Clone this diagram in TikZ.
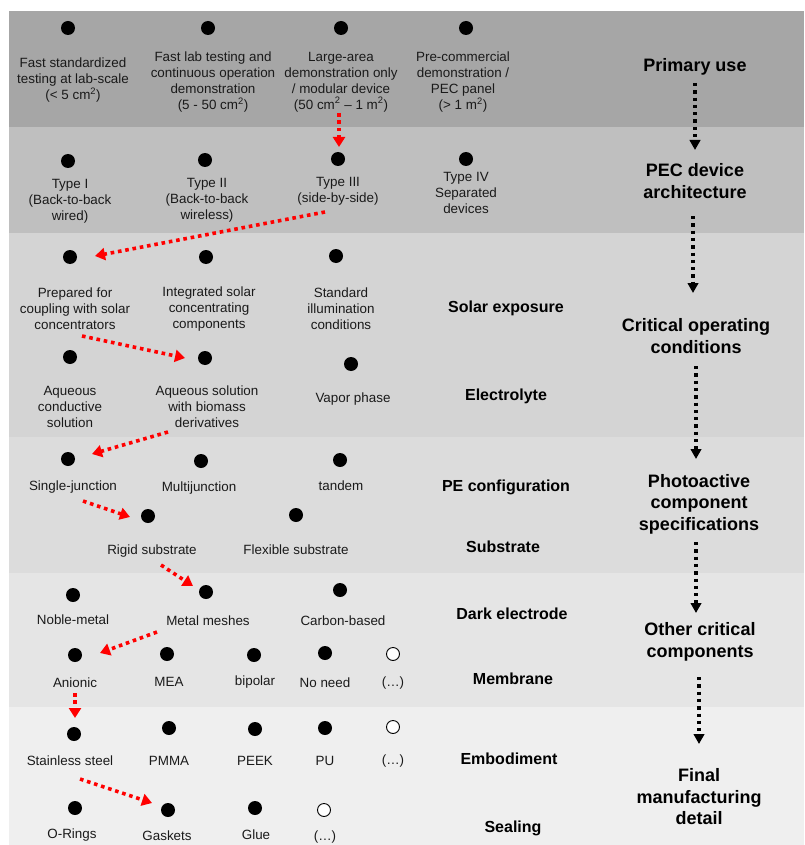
\documentclass[tikz,border=0pt]{standalone}
\usepackage{fontspec}
\setmainfont{Liberation Sans}
\usetikzlibrary{arrows.meta}
\definecolor{bandA}{HTML}{A6A6A6}
\definecolor{bandB}{HTML}{BFBFBF}
\definecolor{bandC}{HTML}{D4D4D4}
\definecolor{bandD}{HTML}{DCDCDC}
\definecolor{bandE}{HTML}{E5E5E5}
\definecolor{bandF}{HTML}{EFEFEF}
\definecolor{txt}{HTML}{1A1A1A}
\begin{document}
\begin{tikzpicture}[x=1pt,y=-1pt,
  dot/.style={circle,fill=black,inner sep=0pt,minimum size=14pt},
  odot/.style={circle,draw=black,fill=white,line width=0.9pt,inner sep=0pt,minimum size=13pt},
  lbl/.style={align=center,inner sep=0pt,text=txt,font=\fontsize{13.4}{16}\selectfont},
  cat/.style={align=center,inner sep=0pt,font=\fontsize{16}{19}\selectfont\bfseries},
  lvl/.style={align=center,inner sep=0pt,font=\fontsize{18}{21.5}\selectfont\bfseries},
  redarr/.style={draw=red,line width=3.6pt,dash pattern=on 3.6pt off 3.8pt,-{Triangle[length=10pt,width=12pt]}},
  blkarr/.style={draw=black,line width=3.3pt,dash pattern=on 3.3pt off 4pt,-{Triangle[length=10pt,width=10.5pt]}},
]
\useasboundingbox (0,0) rectangle (804,845);
\fill[white] (0,0) rectangle (804,845);
% bands
\fill[bandA] (9,11) rectangle (804,127);
\fill[bandB] (9,127) rectangle (804,233);
\fill[bandC] (9,233) rectangle (804,437);
\fill[bandD] (9,437) rectangle (804,573);
\fill[bandE] (9,573) rectangle (804,707);
\fill[bandF] (9,707) rectangle (804,845);

% ---------- Band 1: primary use
\node[dot] (d11) at (68,28) {};
\node[dot] (d12) at (208,28) {};
\node[dot] (d13) at (341,28) {};
\node[dot] (d14) at (466,28) {};
\node[lbl] (t11) at (73,80) {Fast standardized\\testing at lab-scale\\(< 5 cm\textsuperscript{2})};
\node[lbl] (t12) at (213,82) {Fast lab testing and\\continuous operation\\demonstration\\(5 - 50 cm\textsuperscript{2})};
\node[lbl] (t13) at (341,82) {Large-area\\demonstration only\\/ modular device\\(50 cm\textsuperscript{2} – 1 m\textsuperscript{2})};
\node[lbl] (t14) at (463,82) {Pre-commercial\\demonstration /\\PEC panel\\ (> 1 m\textsuperscript{2})};
\node[lvl] (h1) at (695,67) {Primary use};

% ---------- Band 2: architecture
\node[dot] (d21) at (68,161) {};
\node[dot] (d22) at (205,160) {};
\node[dot] (d23) at (338,159) {};
\node[dot] (d24) at (466,159) {};
\node[lbl] (t21) at (70,201) {Type I\\(Back-to-back\\wired)};
\node[lbl] (t22) at (207,200) {Type II\\(Back-to-back\\wireless)};
\node[lbl] (t23) at (338,191) {Type III\\(side-by-side)};
\node[lbl] (t24) at (466,193) {Type IV\\Separated\\devices};
\node[lvl] (h2) at (695,181) {PEC device\\architecture};

% ---------- Band 3: operating conditions
\node[dot] (d31) at (70,257) {};
\node[dot] (d32) at (206,257) {};
\node[dot] (d33) at (336,256) {};
\node[lbl] (t31) at (75,309) {Prepared for\\coupling with solar\\concentrators};
\node[lbl] (t32) at (209,309) {Integrated solar\\concentrating\\components};
\node[lbl] (t33) at (341,309) {Standard\\illumination\\conditions};
\node[cat] (c31) at (506,308) {Solar exposure};
\node[lvl] (h3) at (696,336) {Critical operating\\conditions};
\node[dot] (d34) at (70,357) {};
\node[dot] (d35) at (205,358) {};
\node[dot] (d36) at (351,364) {};
\node[lbl] (t34) at (70,407) {Aqueous\\conductive\\solution};
\node[lbl] (t35) at (207,407) {Aqueous solution\\with biomass\\derivatives};
\node[lbl] (t36) at (353,399) {Vapor phase};
\node[cat] (c32) at (506,396) {Electrolyte};

% ---------- Band 4: photoactive component
\node[dot] (d41) at (68,459) {};
\node[dot] (d42) at (201,461) {};
\node[dot] (d43) at (340,460) {};
\node[lbl] (t41) at (73,487) {Single-junction};
\node[lbl] (t42) at (199,488) {Multijunction};
\node[lbl] (t43) at (341,486) {tandem};
\node[cat] (c41) at (506,487) {PE configuration};
\node[lvl] (h4) at (699,504) {Photoactive\\component\\specifications};
\node[dot] (d44) at (148,516) {};
\node[dot] (d45) at (296,515) {};
\node[lbl] (t44) at (152,551) {Rigid substrate};
\node[lbl] (t45) at (296,550) {Flexible substrate};
\node[cat] (c42) at (503,547) {Substrate};

% ---------- Band 5: other components
\node[dot] (d51) at (73,595) {};
\node[dot] (d52) at (206,592) {};
\node[dot] (d53) at (340,590) {};
\node[lbl] (t51) at (73,620) {Noble-metal};
\node[lbl] (t52) at (208,621) {Metal meshes};
\node[lbl] (t53) at (343,621) {Carbon-based};
\node[cat] (c51) at (512,614) {Dark electrode};
\node[lvl] (h5) at (700,642) {Other critical\\components};
\node[dot] (d54) at (75,655) {};
\node[dot] (d55) at (167,654) {};
\node[dot] (d56) at (254,655) {};
\node[dot] (d57) at (325,653) {};
\node[odot] (d58) at (393,654) {};
\node[lbl] (t54) at (75,683) {Anionic};
\node[lbl] (t55) at (169,682) {MEA};
\node[lbl] (t56) at (255,682) {bipolar};
\node[lbl] (t57) at (325,683) {No need};
\node[lbl] (t58) at (393,683) {(…)};
\node[cat] (c52) at (513,679) {Membrane};

% ---------- Band 6: manufacturing detail
\node[dot] (d61) at (74,734) {};
\node[dot] (d62) at (169,728) {};
\node[dot] (d63) at (255,729) {};
\node[dot] (d64) at (325,728) {};
\node[odot] (d65) at (393,727) {};
\node[lbl] (t61) at (70,761) {Stainless steel};
\node[lbl] (t62) at (169,761) {PMMA};
\node[lbl] (t63) at (255,761) {PEEK};
\node[lbl] (t64) at (325,761) {PU};
\node[lbl] (t65) at (393,761) {(…)};
\node[cat] (c61) at (509,759) {Embodiment};
\node[lvl] (h6) at (699,797) {Final\\manufacturing\\detail};
\node[dot] (d66) at (75,808) {};
\node[dot] (d67) at (168,810) {};
\node[dot] (d68) at (255,808) {};
\node[odot] (d69) at (324,810) {};
\node[lbl] (t66) at (72,835) {O-Rings};
\node[lbl] (t67) at (167,836) {Gaskets};
\node[lbl] (t68) at (256,835) {Glue};
\node[lbl] (t69) at (325,837) {(…)};
\node[cat] (c62) at (513,828) {Sealing};

% ---------- red selection path
\coordinate (r1a) at (339,113); \coordinate (r1b) at (339,147);
\coordinate (r2a) at (325,212); \coordinate (r2b) at (95,256);
\coordinate (r3a) at (82,336);  \coordinate (r3b) at (185,358);
\coordinate (r4a) at (168,432); \coordinate (r4b) at (92,454);
\coordinate (r5a) at (83,501);  \coordinate (r5b) at (130,517);
\coordinate (r6a) at (161,565); \coordinate (r6b) at (193,586);
\coordinate (r7a) at (157,632); \coordinate (r7b) at (100,653);
\coordinate (r8a) at (75,693);  \coordinate (r8b) at (75,718);
\coordinate (r9a) at (80,779);  \coordinate (r9b) at (152,803);
\draw[redarr] (r1a) -- (r1b);
\draw[redarr] (r2a) -- (r2b);
\draw[redarr] (r3a) -- (r3b);
\draw[redarr] (r4a) -- (r4b);
\draw[redarr] (r5a) -- (r5b);
\draw[redarr] (r6a) -- (r6b);
\draw[redarr] (r7a) -- (r7b);
\draw[redarr] (r8a) -- (r8b);
\draw[redarr] (r9a) -- (r9b);

% ---------- black level arrows
\coordinate (k1a) at (695,83);  \coordinate (k1b) at (695,150);
\coordinate (k2a) at (693,216); \coordinate (k2b) at (693,293);
\coordinate (k3a) at (696,366); \coordinate (k3b) at (696,459);
\coordinate (k4a) at (696,542); \coordinate (k4b) at (696,613);
\coordinate (k5a) at (699,677); \coordinate (k5b) at (699,744);
\draw[blkarr] (k1a) -- (k1b);
\draw[blkarr] (k2a) -- (k2b);
\draw[blkarr] (k3a) -- (k3b);
\draw[blkarr] (k4a) -- (k4b);
\draw[blkarr] (k5a) -- (k5b);
\end{tikzpicture}
\end{document}
